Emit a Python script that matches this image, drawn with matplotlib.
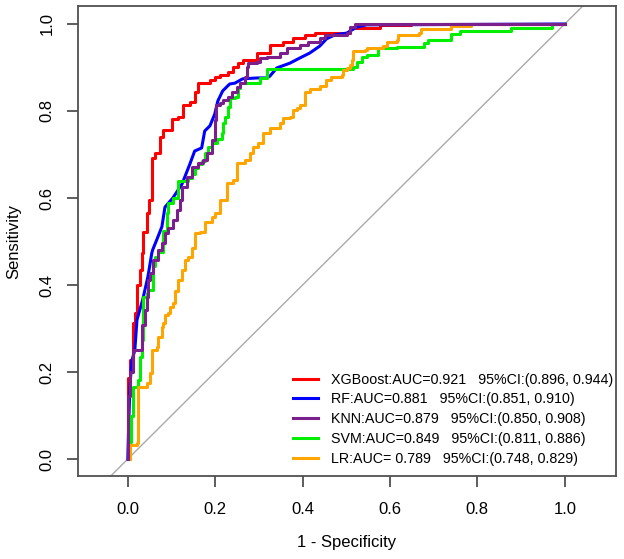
import numpy as np
import matplotlib
matplotlib.use("Agg")
import matplotlib.pyplot as plt

plt.rcParams['font.family'] = ['Liberation Sans', 'DejaVu Sans']

# ROC curves (1 - specificity, sensitivity)
xgb_fpr = [0.000, 0.000, 0.005, 0.011, 0.016, 0.021, 0.027, 0.032, 0.034, 0.043, 0.048,
           0.055, 0.062, 0.073, 0.080, 0.101, 0.114, 0.126, 0.142, 0.153, 0.160, 0.188,
           0.199, 0.210, 0.229, 0.240, 0.252, 0.263, 0.295, 0.325, 0.355, 0.378, 0.405,
           0.428, 0.508, 0.577, 0.648, 1.000]
xgb_tpr = [0.000, 0.186, 0.228, 0.313, 0.336, 0.400, 0.434, 0.474, 0.522, 0.566, 0.595,
           0.692, 0.703, 0.740, 0.756, 0.782, 0.786, 0.814, 0.821, 0.844, 0.864, 0.871,
           0.878, 0.883, 0.890, 0.901, 0.910, 0.917, 0.933, 0.952, 0.959, 0.968, 0.975,
           0.979, 0.991, 0.998, 1.000, 1.000]

rf_fpr = [0.000, 0.002, 0.005, 0.009, 0.016, 0.021, 0.034, 0.046, 0.055, 0.057, 0.069,
          0.078, 0.085, 0.103, 0.124, 0.142, 0.153, 0.169, 0.176, 0.188, 0.199, 0.206,
          0.217, 0.233, 0.245, 0.263, 0.297, 0.318, 0.325, 0.341, 0.371, 0.394, 0.416,
          0.439, 0.455, 0.474, 0.501, 0.524, 0.547, 1.000]
rf_tpr = [0.000, 0.080, 0.170, 0.225, 0.250, 0.320, 0.366, 0.419, 0.474, 0.481, 0.511,
          0.534, 0.579, 0.600, 0.632, 0.678, 0.708, 0.715, 0.754, 0.766, 0.793, 0.823,
          0.846, 0.862, 0.864, 0.874, 0.876, 0.876, 0.880, 0.899, 0.910, 0.922, 0.933,
          0.949, 0.966, 0.975, 0.979, 0.993, 0.998, 1.000]

knn_fpr = [0.000, 0.000, 0.005, 0.011, 0.032, 0.039, 0.044, 0.046, 0.050, 0.057, 0.069,
           0.078, 0.085, 0.092, 0.103, 0.112, 0.119, 0.124, 0.135, 0.146, 0.160, 0.172,
           0.181, 0.192, 0.199, 0.201, 0.210, 0.217, 0.229, 0.238, 0.249, 0.256, 0.268,
           0.272, 0.275, 0.295, 0.302, 0.318, 0.348, 0.364, 0.394, 0.412, 0.439, 0.451,
           0.501, 0.508, 0.519, 1.000]
knn_tpr = [0.000, 0.145, 0.200, 0.250, 0.308, 0.343, 0.372, 0.411, 0.428, 0.457, 0.480,
           0.497, 0.520, 0.531, 0.549, 0.572, 0.595, 0.625, 0.648, 0.671, 0.680, 0.687,
           0.703, 0.733, 0.779, 0.814, 0.818, 0.825, 0.832, 0.844, 0.855, 0.864, 0.878,
           0.901, 0.910, 0.913, 0.922, 0.924, 0.933, 0.945, 0.952, 0.959, 0.968, 0.975,
           0.979, 0.993, 1.000, 1.000]

svm_fpr = [0.000, 0.005, 0.007, 0.011, 0.023, 0.027, 0.032, 0.034, 0.044, 0.046, 0.057,
           0.062, 0.069, 0.080, 0.089, 0.092, 0.103, 0.114, 0.126, 0.137, 0.146, 0.153,
           0.160, 0.169, 0.176, 0.183, 0.192, 0.204, 0.215, 0.217, 0.222, 0.229, 0.233,
           0.245, 0.252, 0.256, 0.272, 0.302, 0.318, 0.515, 0.524, 0.537, 0.547, 0.572,
           0.616, 0.677, 0.687, 0.739, 0.760, 0.876, 0.970, 1.000]
svm_tpr = [0.000, 0.040, 0.100, 0.166, 0.182, 0.234, 0.273, 0.372, 0.382, 0.389, 0.444,
           0.464, 0.476, 0.524, 0.566, 0.589, 0.600, 0.639, 0.639, 0.646, 0.655, 0.669,
           0.678, 0.685, 0.703, 0.717, 0.726, 0.736, 0.749, 0.772, 0.786, 0.809, 0.830,
           0.832, 0.853, 0.864, 0.864, 0.876, 0.897, 0.901, 0.913, 0.924, 0.929, 0.945,
           0.947, 0.956, 0.963, 0.977, 0.984, 0.991, 1.000, 1.000]

lr_fpr = [0.000, 0.005, 0.020, 0.023, 0.043, 0.050, 0.055, 0.066, 0.069, 0.078, 0.080,
          0.085, 0.092, 0.096, 0.103, 0.108, 0.114, 0.124, 0.130, 0.137, 0.146, 0.153,
          0.165, 0.176, 0.192, 0.199, 0.210, 0.227, 0.240, 0.249, 0.268, 0.279, 0.286,
          0.297, 0.309, 0.325, 0.348, 0.355, 0.371, 0.378, 0.387, 0.394, 0.405, 0.416,
          0.439, 0.453, 0.465, 0.490, 0.492, 0.501, 0.508, 0.513, 0.515, 0.542, 0.547,
          0.584, 0.593, 0.616, 0.618, 0.666, 0.670, 0.739, 0.785, 1.000]
lr_tpr = [0.000, 0.032, 0.037, 0.166, 0.175, 0.198, 0.250, 0.258, 0.280, 0.303, 0.312,
          0.331, 0.335, 0.349, 0.359, 0.386, 0.412, 0.434, 0.457, 0.464, 0.484, 0.520,
          0.522, 0.545, 0.556, 0.566, 0.595, 0.634, 0.641, 0.680, 0.687, 0.703, 0.717,
          0.726, 0.749, 0.761, 0.772, 0.784, 0.786, 0.802, 0.807, 0.814, 0.844, 0.851,
          0.857, 0.871, 0.878, 0.883, 0.894, 0.899, 0.906, 0.917, 0.938, 0.940, 0.945,
          0.949, 0.958, 0.963, 0.975, 0.979, 0.988, 0.995, 1.000, 1.000]

labels = ["XGBoost:AUC=0.921   95%CI:(0.896, 0.944)",
          "RF:AUC=0.881   95%CI:(0.851, 0.910)",
          "KNN:AUC=0.879   95%CI:(0.850, 0.908)",
          "SVM:AUC=0.849   95%CI:(0.811, 0.886)",
          "LR:AUC= 0.789   95%CI:(0.748, 0.829)"]
colors = ["#ff0000", "#0000ff", "#7b1f8c", "#00ee00", "#ffa500"]

fig = plt.figure(figsize=(6.24, 5.59), dpi=100)
ax = fig.add_axes([0.125, 0.1485, 0.862, 0.8405])

ax.plot([-0.2, 1.2], [-0.2, 1.2], color="#aaaaaa", lw=1, zorder=1)

lw = 2.2
h_xgb, = ax.step(xgb_fpr, xgb_tpr, where="post", color=colors[0], lw=lw, zorder=3)
h_rf, = ax.plot(rf_fpr, rf_tpr, color=colors[1], lw=lw, zorder=3)
h_svm, = ax.step(svm_fpr, svm_tpr, where="post", color=colors[3], lw=lw, zorder=3)
h_lr, = ax.step(lr_fpr, lr_tpr, where="post", color=colors[4], lw=lw, zorder=3)
h_knn, = ax.step(knn_fpr, knn_tpr, where="post", color=colors[2], lw=lw, zorder=4)

ax.set_xlim(-0.114, 1.117)
ax.set_ylim(-0.039, 1.041)
ticks = np.arange(0, 1.01, 0.2)
ax.set_xticks(ticks)
ax.set_yticks(ticks)
ax.set_xticklabels(["%.1f" % t for t in ticks])
ax.set_yticklabels(["%.1f" % t for t in ticks], rotation=90, va="center")

for s in ax.spines.values():
    s.set_color("#505050")
    s.set_linewidth(1.3)
ax.tick_params(axis="both", direction="out", length=8, width=1.3, color="#505050",
               labelsize=12)
ax.tick_params(axis="x", pad=11)
ax.tick_params(axis="y", pad=9)

ax.set_xlabel("1 - Specificity", fontsize=12, labelpad=13)
ax.set_ylabel("Sensitivity", fontsize=12, labelpad=13)

ax.legend([h_xgb, h_rf, h_knn, h_svm, h_lr], labels, loc="lower right", frameon=False,
          fontsize=10.3, handlelength=1.75, handletextpad=0.95, labelspacing=0.4,
          borderaxespad=0, borderpad=0, bbox_to_anchor=(0.996, 0.022))

fig.savefig("out.png", dpi=100)
